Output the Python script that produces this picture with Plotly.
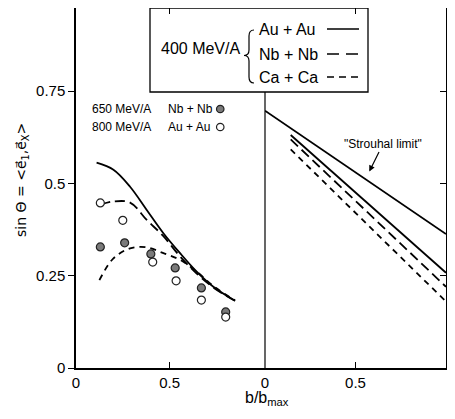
import plotly.graph_objects as go

# ---------------- data ----------------
# left panel: theory curves (400 MeV/A)
curve_x = [0.11, 0.20, 0.289, 0.378, 0.467, 0.556, 0.645, 0.734, 0.85]
au_left = [0.556, 0.537, 0.491, 0.428, 0.365, 0.311, 0.261, 0.220, 0.182]
nb_x = [0.13, 0.20, 0.289, 0.378, 0.467, 0.556, 0.645, 0.734, 0.85]
nb_left = [0.442, 0.451, 0.448, 0.401, 0.357, 0.302, 0.256, 0.218, 0.182]
ca_x = [0.125, 0.20, 0.289, 0.378, 0.467, 0.556, 0.645, 0.734, 0.85]
ca_left = [0.238, 0.297, 0.324, 0.327, 0.311, 0.293, 0.261, 0.222, 0.183]

# left panel: experimental points
exp_x = [0.13, 0.26, 0.40, 0.53, 0.67, 0.80]
nb650 = [0.328, 0.339, 0.309, 0.271, 0.217, 0.152]
exp_x2 = [0.13, 0.25, 0.41, 0.535, 0.67, 0.80]
au800 = [0.447, 0.400, 0.287, 0.236, 0.184, 0.138]

# right panel: straight lines
strouhal_x = [0.0, 1.0]
strouhal_y = [0.697, 0.363]
right_x = [0.142, 1.0]
au_right = [0.631, 0.258]
nb_right = [0.619, 0.220]
ca_right = [0.592, 0.180]

y_ticks = [0, 0.25, 0.5, 0.75]
y_ticktext = ["0", "0.25", "0.5", "0.75"]
x_ticks = [0, 0.5]
x_ticktext = ["0", "0.5"]

# ---------------- layout helpers (screen pixel -> paper) ----------------
OFF = 8                      # default page body margin
W, H = 439, 411
L, R, T, B = 76 - OFF, 1, 8 - OFF, 51
PW, PH = W - L - R, H - T - B
def px(x):
    return (x - OFF - L) / PW
def py(y):
    return (H - B - (y - OFF)) / PH

split = px(265)
FONT = "Liberation Sans"
LW = 1.8
DASH_NB = "10px,5px"
DASH_CA = "6px,5px"

fig = go.Figure()
black = "black"
fig.add_trace(go.Scatter(x=curve_x, y=au_left, mode="lines", line=dict(color=black, width=LW, shape="spline"), xaxis="x", yaxis="y"))
fig.add_trace(go.Scatter(x=nb_x, y=nb_left, mode="lines", line=dict(color=black, width=LW, dash=DASH_NB, shape="spline"), xaxis="x", yaxis="y"))
fig.add_trace(go.Scatter(x=ca_x, y=ca_left, mode="lines", line=dict(color=black, width=LW, dash=DASH_CA, shape="spline"), xaxis="x", yaxis="y"))
fig.add_trace(go.Scatter(x=exp_x, y=nb650, mode="markers", marker=dict(size=8, color="#7a7a7a", line=dict(color="#222", width=1.2)), xaxis="x", yaxis="y"))
fig.add_trace(go.Scatter(x=exp_x2, y=au800, mode="markers", marker=dict(size=8, color="white", line=dict(color="#222", width=1.2)), xaxis="x", yaxis="y"))

fig.add_trace(go.Scatter(x=strouhal_x, y=strouhal_y, mode="lines", line=dict(color=black, width=LW), xaxis="x2", yaxis="y2"))
fig.add_trace(go.Scatter(x=right_x, y=au_right, mode="lines", line=dict(color=black, width=LW), xaxis="x2", yaxis="y2"))
fig.add_trace(go.Scatter(x=right_x, y=nb_right, mode="lines", line=dict(color=black, width=LW, dash=DASH_NB), xaxis="x2", yaxis="y2"))
fig.add_trace(go.Scatter(x=right_x, y=ca_right, mode="lines", line=dict(color=black, width=LW, dash=DASH_CA), xaxis="x2", yaxis="y2"))

tickfont = dict(family=FONT, size=15, color=black)
xcommon = dict(tickvals=x_ticks, ticktext=x_ticktext, ticks="inside", ticklen=6, tickcolor=black,
               showline=True, linecolor=black, linewidth=1.5, mirror="ticks", showgrid=False,
               zeroline=False, tickfont=tickfont)
fig.update_layout(
    width=W, height=H, margin=dict(l=L, r=R, t=T, b=B, autoexpand=False),
    paper_bgcolor="white", plot_bgcolor="white", showlegend=False,
    xaxis=dict(domain=[0, split], range=[0, 1.01], anchor="y", **xcommon),
    xaxis2=dict(domain=[split, 1], range=[0, 1.0], anchor="y2", **xcommon),
    yaxis=dict(range=[0, 0.975], tickvals=y_ticks, ticktext=y_ticktext, ticks="outside", ticklen=6,
               tickcolor=black, showline=True, linecolor=black, linewidth=1.5, showgrid=False,
               zeroline=False, tickfont=tickfont, anchor="x"),
    yaxis2=dict(range=[0, 0.975], tickvals=y_ticks, ticks="inside", ticklen=6, tickcolor=black,
                showticklabels=False, showline=True, linecolor=black, linewidth=1.5, showgrid=False,
                zeroline=False, anchor="x2", side="right", matches="y"),
)

shapes = []
# divider between panels (below legend box)
shapes.append(dict(type="line", xref="paper", yref="paper", x0=split, x1=split, y0=0, y1=py(92),
                   line=dict(color=black, width=1.2)))
# legend box
shapes.append(dict(type="rect", xref="paper", yref="paper", x0=px(150), x1=px(368), y0=py(92), y1=py(8),
                   line=dict(color=black, width=1.3), fillcolor="rgba(0,0,0,0)", layer="above"))
# brace
pts = [(254, 30), (249, 30), (249, 36), (249, 50), (249, 55.5), (244, 55.5), (249, 55.5), (249, 61),
       (249, 77), (249, 83), (254, 83)]
P = [(px(a), py(b)) for a, b in pts]
path = (f"M {P[0][0]},{P[0][1]} Q {P[1][0]},{P[1][1]} {P[2][0]},{P[2][1]} L {P[3][0]},{P[3][1]} "
        f"Q {P[4][0]},{P[4][1]} {P[5][0]},{P[5][1]} Q {P[6][0]},{P[6][1]} {P[7][0]},{P[7][1]} "
        f"L {P[8][0]},{P[8][1]} Q {P[9][0]},{P[9][1]} {P[10][0]},{P[10][1]}")
shapes.append(dict(type="path", xref="paper", yref="paper", path=path, line=dict(color=black, width=1.2)))
# legend line samples
for yy, dash in [(29, "solid"), (54, "12px,7px"), (77, "7px,5px")]:
    shapes.append(dict(type="line", xref="paper", yref="paper", x0=px(327), x1=px(359), y0=py(yy), y1=py(yy),
                       line=dict(color=black, width=1.5, dash=dash)))
# data legend markers
for yy, fill in [(109, "#7a7a7a"), (127, "white")]:
    shapes.append(dict(type="circle", xref="paper", yref="paper", x0=px(216.5), x1=px(224), y0=py(yy + 3.7), y1=py(yy - 3.7),
                       line=dict(color="#222", width=1.2), fillcolor=fill))
fig.update_layout(shapes=shapes)

ann = []
def text(x, y, s, size, anchor="left", family=FONT, **kw):
    ann.append(dict(x=px(x), y=py(y), xref="paper", yref="paper", text=s, showarrow=False,
                    xanchor=anchor, yanchor="middle", font=dict(family=family, size=size, color=black), **kw))

text(242, 48, "400 MeV/A", 16, anchor="right")
text(257, 29, "Au + Au", 16)
text(257, 54, "Nb + Nb", 16)
text(257, 77, "Ca + Ca", 16)
text(90, 109, "650 MeV/A", 12)
text(166, 109, "Nb + Nb", 12)
text(90, 127, "800 MeV/A", 12)
text(166, 127, "Au + Au", 12)
text(22, 180, "sin Θ = &lt;e\u20d7<sub>1</sub>,e\u20d7<sub>X</sub>&gt;", 14, anchor="center",
     family="DejaVu Sans", textangle=-90)
text(267, 398, "b/b<sub>max</sub>", 16, anchor="center")

ann.append(dict(x=0.576, y=0.532, xref="x2", yref="y2", text="\"Strouhal limit\"", showarrow=True,
                ax=14, ay=-28, arrowhead=2, arrowsize=1, arrowwidth=1.2, arrowcolor=black,
                font=dict(family=FONT, size=12, color=black)))
fig.update_layout(annotations=ann)

fig.write_html("out.html")
